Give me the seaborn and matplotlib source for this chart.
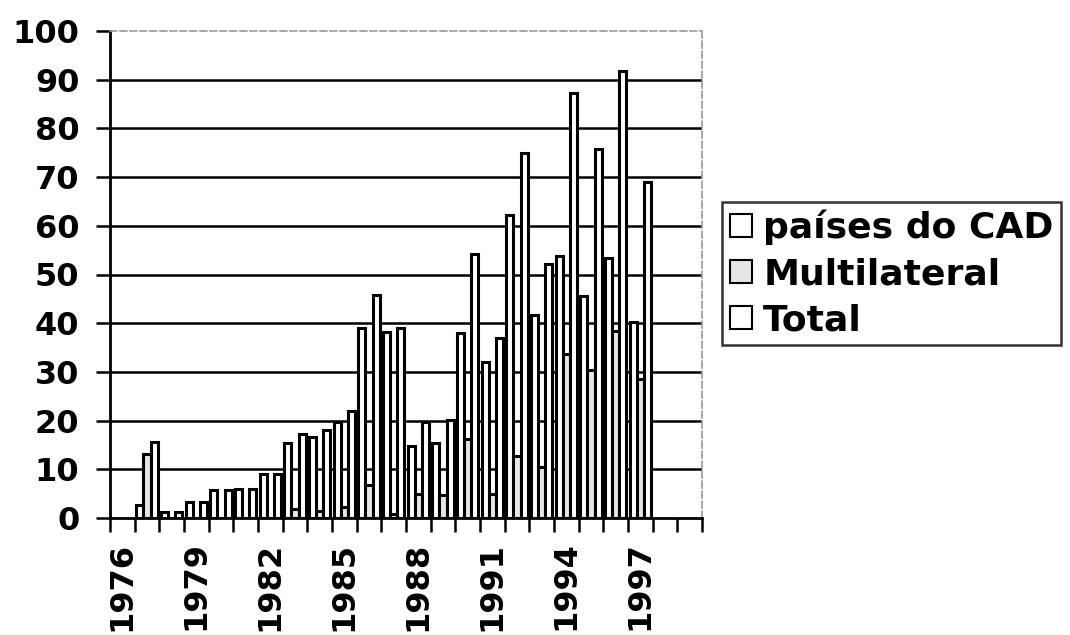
import numpy as np
import pandas as pd
import matplotlib
matplotlib.use("Agg")
import matplotlib.pyplot as plt
from matplotlib.patches import Patch
import seaborn as sns

# ---- data ----
axis_years = [str(y) for y in range(1976, 2000)]
years = [str(y) for y in range(1977, 1998)]
cad = [2.6, 1.2, 3.2, 5.7, 5.9, 9.0, 15.4, 16.7, 19.8, 39.0, 38.2, 14.8, 15.3,
       37.9, 32.0, 62.2, 41.6, 53.7, 45.5, 53.4, 40.3]
multilateral = [13.1, 0.0, 0.0, 0.0, 0.0, 0.0, 1.8, 1.4, 2.2, 6.7, 0.8, 4.9, 4.8,
                16.3, 4.9, 12.8, 10.5, 33.6, 30.3, 38.4, 28.6]
total = [15.7, 1.2, 3.2, 5.7, 5.9, 9.0, 17.2, 18.1, 22.0, 45.7, 39.0, 19.7, 20.1,
         54.2, 36.9, 75.0, 52.1, 87.3, 75.8, 91.8, 68.9]
series_names = ["países do CAD", "Multilateral", "Total"]
tick_labels = ["1976", "1979", "1982", "1985", "1988", "1991", "1994", "1997"]
y_ticks = list(range(0, 101, 10))

df = pd.DataFrame({
    "ano": years * 3,
    "serie": [series_names[0]] * len(years) + [series_names[1]] * len(years) + [series_names[2]] * len(years),
    "valor": cad + multilateral + total,
})

colors = {series_names[0]: "white", series_names[1]: "#e6e6e6", series_names[2]: "white"}

sns.set_style("white")
plt.rcParams["font.family"] = ["DejaVu Sans"]
plt.rcParams["font.weight"] = "bold"
plt.rcParams["text.color"] = "black"
plt.rcParams["xtick.color"] = "black"
plt.rcParams["ytick.color"] = "black"
plt.rcParams["axes.labelcolor"] = "black"

fig = plt.figure(figsize=(10.70, 6.35), dpi=100)
ax = fig.add_axes([110 / 1070, 1 - 518 / 635, (702 - 110) / 1070, (518 - 31) / 635])

sns.barplot(data=df, x="ano", y="valor", hue="serie", order=axis_years,
            hue_order=series_names, palette=colors, saturation=1,
            edgecolor="black", linewidth=2.2, width=0.86, gap=0,
            legend=False, ax=ax, zorder=3)

ax.set_xlim(-0.5, len(axis_years) - 0.5)
ax.set_ylim(0, 100)
ax.set_xlabel("")
ax.set_ylabel("")

# y axis
ax.set_yticks(y_ticks)
ax.set_yticklabels([str(v) for v in y_ticks], fontsize=23, fontweight="bold", color="black")
ax.tick_params(axis="y", direction="out", length=10, width=1.8, pad=12, colors="black", left=True)

# gridlines
ax.yaxis.grid(True, color="black", linewidth=1.8)
ax.set_axisbelow(True)
gl = ax.get_ygridlines()
gl[0].set_visible(False)
gl[-1].set_visible(False)

# x axis: boundary ticks (minor) and labels every 3 years (major)
ax.set_xticks(np.arange(-0.5, len(axis_years), 1), minor=True)
pos = [axis_years.index(t) for t in tick_labels]
ax.set_xticks(pos)
ax.set_xticklabels(tick_labels, rotation=90, fontsize=23, fontweight="bold", color="black")
ax.tick_params(axis="x", which="minor", direction="out", length=10, width=1.8, bottom=True, colors="black")
ax.tick_params(axis="x", which="major", length=0, pad=17, bottom=True, colors="black")

# spines
for s in ["left", "bottom"]:
    ax.spines[s].set_color("black")
    ax.spines[s].set_linewidth(2)
for s in ["top", "right"]:
    ax.spines[s].set_color("#9a9a9a")
    ax.spines[s].set_linewidth(1.2)
    ax.spines[s].set_linestyle((0, (4, 2)))

# legend
handles = [Patch(facecolor=colors[n], edgecolor="black", linewidth=1.5, label=n) for n in series_names]
leg = fig.legend(handles=handles, loc="upper left", bbox_to_anchor=(722 / 1070, 1 - 202 / 635),
                 bbox_transform=fig.transFigure, frameon=True, fancybox=False,
                 prop={"size": 26, "weight": "bold"}, handlelength=0.62, handleheight=0.62,
                 handletextpad=0.3, labelspacing=0.33, borderpad=0.22, borderaxespad=0)
leg.get_frame().set_edgecolor("black")
leg.get_frame().set_linewidth(1.8)
for t in leg.get_texts():
    t.set_color("black")

fig.savefig("out.png", dpi=100)
